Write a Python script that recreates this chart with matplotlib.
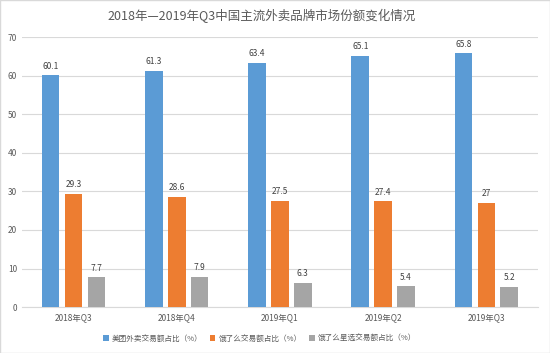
import numpy as np
import matplotlib
matplotlib.use("Agg")
import matplotlib.pyplot as plt

plt.rcParams["font.family"] = ["Noto Sans CJK SC", "DejaVu Sans"]

categories = ["2018年Q3", "2018年Q4", "2019年Q1", "2019年Q2", "2019年Q3"]
meituan = [60.1, 61.3, 63.4, 65.1, 65.8]
eleme = [29.3, 28.6, 27.5, 27.4, 27]
eleme_star = [7.7, 7.9, 6.3, 5.4, 5.2]
labels = ["美团外卖交易额占比（%）", "饿了么交易额占比（%）", "饿了么星选交易额占比（%）"]
colors = ["#5B9BD5", "#ED7D31", "#A5A5A5"]

fig = plt.figure(figsize=(5.5, 3.53), dpi=100)
ax = fig.add_axes([0.04, 0.13, 0.938, 0.765])

x = np.arange(len(categories))
w = 0.17
step = 0.222
for i, (vals, lab, col) in enumerate(zip([meituan, eleme, eleme_star], labels, colors)):
    pos = x + (i - 1) * step
    ax.bar(pos, vals, width=w, color=col, label=lab, zorder=3)
    for p, v in zip(pos, vals):
        ax.text(p, v + 1.2, f"{v:g}", ha="center", va="bottom", fontsize=6, color="#404040")

ax.set_ylim(0, 70)
ax.set_yticks(range(0, 71, 10))
ax.set_xlim(-0.5, len(categories) - 0.5)
ax.set_xticks(x)
ax.set_xticklabels(categories)
ax.tick_params(axis="both", length=0, labelsize=6, colors="#595959")
ax.tick_params(axis="x", pad=4)
ax.grid(axis="y", color="#D9D9D9", linewidth=0.8, zorder=0)
for s in ["top", "right", "left"]:
    ax.spines[s].set_visible(False)
ax.spines["bottom"].set_color("#D9D9D9")

fig.suptitle("2018年—2019年Q3中国主流外卖品牌市场份额变化情况", x=0.475, y=0.975,
             fontsize=9, color="#595959")
fig.legend(loc="lower center", bbox_to_anchor=(0.472, 0.01), ncol=3, frameon=False,
           fontsize=5.5, handlelength=0.7, handleheight=0.7, columnspacing=1.0,
           handletextpad=0.4, labelcolor="#595959")

border = plt.Rectangle((0, 0), 1, 1, transform=fig.transFigure, fill=False,
                       edgecolor="#D9D9D9", linewidth=1)
fig.patches.append(border)

fig.savefig("out.png", dpi=100)
